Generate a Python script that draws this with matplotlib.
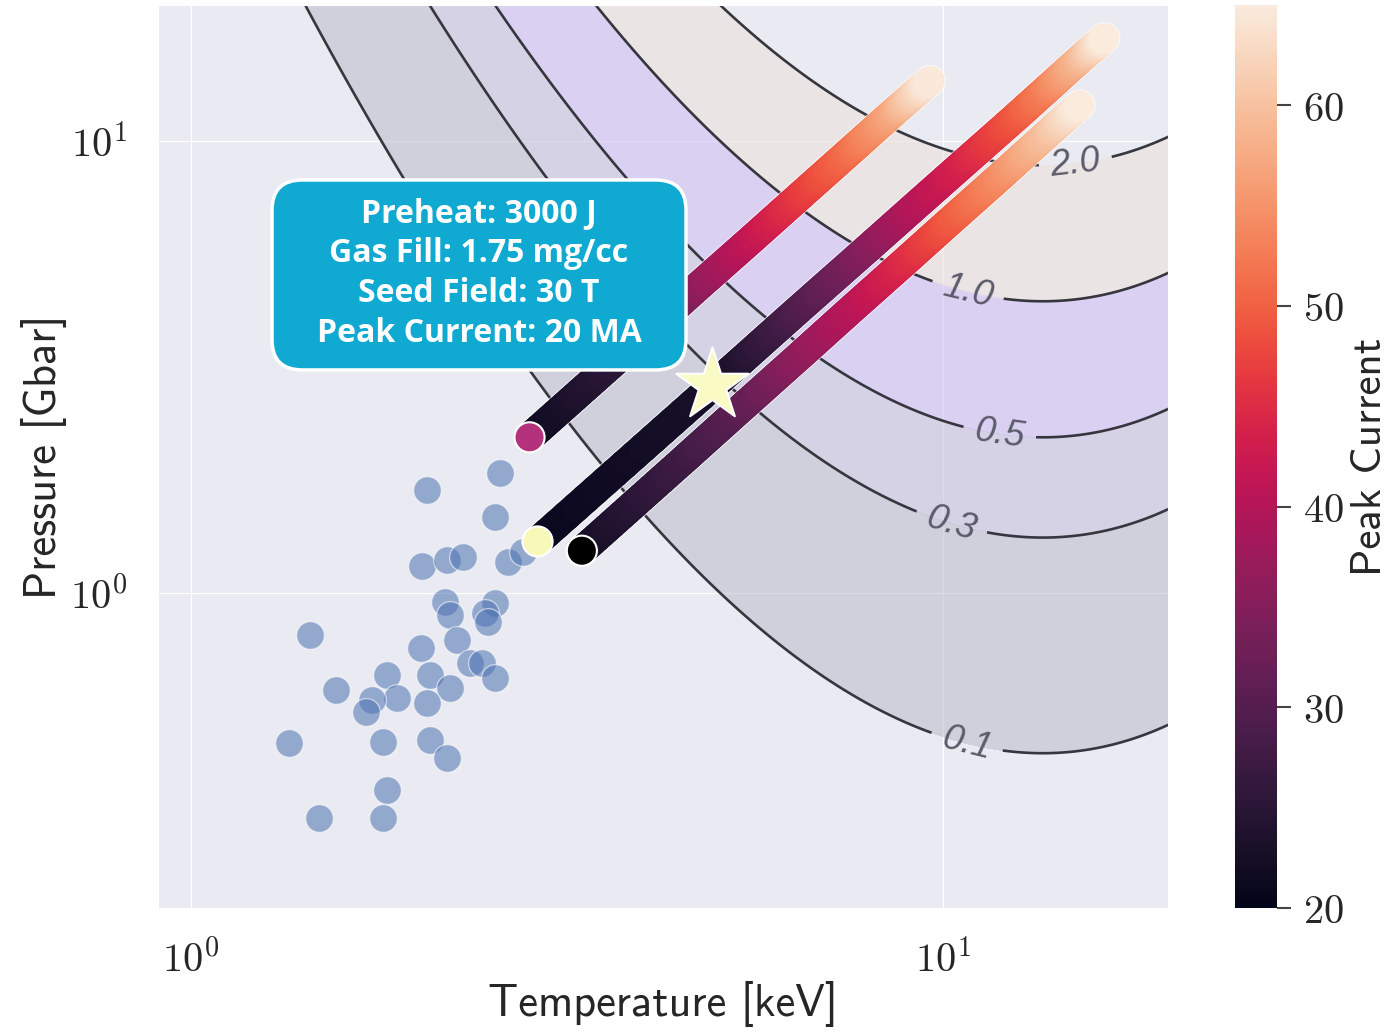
import numpy as np
import matplotlib
matplotlib.use('Agg')
import matplotlib.pyplot as plt
import seaborn as sns
from matplotlib.collections import LineCollection
from matplotlib.patches import FancyBboxPatch
from matplotlib.colors import Normalize
from matplotlib.cm import ScalarMappable
from matplotlib.ticker import NullLocator

sns.set_style('darkgrid')
plt.rcParams['font.family'] = ['DejaVu Sans']
plt.rcParams['mathtext.fontset'] = 'cm'

# contour of value 1.0 (keV, Gbar); the field scales as P
unity_T = [1.41, 2.0, 2.82, 3.98, 5.62, 7.94, 11.2, 15.8, 20.0]
unity_P = [204, 73.6, 31.1, 15.2, 8.51, 5.65, 4.62, 4.49, 5.13]
levels = [0.1, 0.3, 0.5, 1.0, 2.0]
band_colors = ['#c0c0cf', '#c6c3db', '#cfc0f2', '#ede0db']
label_pos = [(10.76, 0.466), (10.28, 1.44), (11.9, 2.27), (10.8, 4.68), (14.98, 9.17)]

# previous shots
shot_T = [2.06, 2.58, 2.54, 2.03, 2.19, 2.30, 2.64, 2.76, 2.18, 2.21, 2.54, 2.46,
          2.48, 1.44, 2.26, 2.02, 2.35, 2.44, 2.54, 2.08, 1.82, 1.56, 2.21, 1.88,
          1.74, 1.71, 2.06, 1.35, 1.80, 2.08, 2.19, 1.82, 1.48, 1.80]
shot_P = [1.69, 1.84, 1.47, 1.15, 1.18, 1.20, 1.17, 1.23, 0.955, 0.894, 0.950, 0.904,
          0.863, 0.807, 0.787, 0.756, 0.700, 0.700, 0.648, 0.659, 0.659, 0.610, 0.616, 0.586,
          0.580, 0.546, 0.571, 0.466, 0.468, 0.473, 0.432, 0.367, 0.318, 0.318]

# current scans (temperature, pressure, peak current)
scan1_T = [2.82, 3.84, 4.75, 5.54, 6.45, 7.52, 8.61, 9.61]
scan1_P = [2.21, 3.49, 4.80, 6.02, 7.55, 9.48, 11.6, 13.6]
scan1_I = [21, 26, 36, 41, 46, 51, 57, 65]
scan2_T = [2.89, 5.22, 6.43, 7.92, 9.26, 10.77, 12.55, 13.8, 15.3, 16.4]
scan2_P = [1.30, 3.11, 4.24, 5.76, 7.26, 9.07, 11.36, 13.1, 15.3, 16.9]
scan2_I = [21, 23, 29, 35, 40, 44, 49, 53, 59, 65]
scan3_T = [3.31, 4.49, 5.23, 6.48, 7.54, 8.78, 10.23, 11.92, 13.88, 15.2]
scan3_P = [1.24, 1.95, 2.45, 3.37, 4.23, 5.30, 6.66, 8.35, 10.5, 12.0]
scan3_I = [22, 27, 30, 36, 40, 44, 49, 54, 60, 65]
start_colors = ['#b3327b', '#f8f8b8', '#000000']

star_T = [4.93]
star_P = [2.88]

box_lines = ['Preheat: 3000 J', 'Gas Fill: 1.75 mg/cc', 'Seed Field: 30 T', 'Peak Current: 20 MA']

fig = plt.figure(figsize=(13.98, 10.34), dpi=100)
ax = fig.add_axes([0.1130, 0.1219, 0.7225, 0.8733])
cax = fig.add_axes([0.8834, 0.1219, 0.0300, 0.8733])
ax.set_xscale('log')
ax.set_yscale('log')
ax.set_xlim(0.904, 19.92)
ax.set_ylim(0.2009, 20.0)

rocket = sns.color_palette('rocket', as_cmap=True)
norm = Normalize(20, 65)

# contour bands
coef = np.polyfit(np.log10(unity_T), np.log10(unity_P), 4)
Tg = np.logspace(np.log10(0.85), np.log10(21), 400)
Pg = np.logspace(np.log10(0.19), np.log10(21), 400)
TT, PP = np.meshgrid(Tg, Pg)
ZZ = PP / 10**np.polyval(coef, np.log10(TT))
ax.contourf(TT, PP, ZZ, levels=levels, colors=band_colors, alpha=0.6, zorder=1)
cs = ax.contour(TT, PP, ZZ, levels=levels, colors='#36363e', linewidths=1.9, zorder=2)
lbls = ax.clabel(cs, fmt='%.1f', manual=label_pos, inline=True, fontsize=26, inline_spacing=8)
for t in lbls:
    t.set_fontfamily('Liberation Sans')
    t.set_fontstyle('italic')
    t.set_color('#5b5b6b')

ax.scatter(shot_T, shot_P, s=400, color='#4c72b0', alpha=0.55, edgecolors='white',
           linewidths=1, zorder=3)

scans = [(scan1_T, scan1_P, scan1_I), (scan2_T, scan2_P, scan2_I), (scan3_T, scan3_P, scan3_I)]
for i, (T, P, I) in enumerate(scans):
    lt, lp = np.log10(T), np.log10(P)
    segs, vals = [], []
    for k in range(len(T) - 1):
        f = np.linspace(0, 1, 21)
        x = 10**(lt[k] + f * (lt[k + 1] - lt[k]))
        y = 10**(lp[k] + f * (lp[k + 1] - lp[k]))
        c = I[k] + f * (I[k + 1] - I[k])
        for j in range(20):
            segs.append([(x[j], y[j]), (x[j + 1], y[j + 1])])
            vals.append(0.5 * (c[j] + c[j + 1]))
    ax.plot(T, P, color='white', lw=23, alpha=0.7, solid_capstyle='round', zorder=4 + i * 0.1)
    lc = LineCollection(segs, cmap=rocket, norm=norm, linewidths=21.5, capstyle='round',
                        zorder=4.05 + i * 0.1)
    lc.set_array(np.array(vals))
    ax.add_collection(lc)

ax.scatter([scan1_T[0], scan2_T[0], scan3_T[0]], [scan1_P[0], scan2_P[0], scan3_P[0]],
           s=470, c=start_colors, edgecolors='white', linewidths=1.5, zorder=6)
ax.scatter(star_T, star_P, marker='*', s=3000, c='#fafac4', edgecolors='white',
           linewidths=1.5, zorder=7)

box = FancyBboxPatch((0.1129, 0.5958), 0.4099, 0.2104, boxstyle='round,pad=0,rounding_size=0.03',
                     mutation_aspect=1010 / 903, transform=ax.transAxes, fc='#10a9d1',
                     ec='white', lw=2.5, zorder=8)
ax.add_patch(box)
ax.text(0.3178, 0.703, '\n'.join(box_lines), transform=ax.transAxes, ha='center', va='center',
        color='white', fontsize=23, fontweight='bold', family='Open Sans', linespacing=1.28,
        zorder=9)

ax.set_xticks([1, 10])
ax.set_xticklabels([r'$\mathrm{10}^{\mathrm{0}}$', r'$\mathrm{10}^{\mathrm{1}}$'])
ax.set_yticks([1, 10])
ax.set_yticklabels([r'$\mathrm{10}^{\mathrm{0}}$', r'$\mathrm{10}^{\mathrm{1}}$'])
ax.xaxis.set_minor_locator(NullLocator())
ax.yaxis.set_minor_locator(NullLocator())
ax.tick_params(axis='x', labelsize=29, pad=20, colors='#262626')
ax.tick_params(axis='y', labelsize=29, pad=19, colors='#262626')
ax.set_xlabel('Temperature [keV]', family='cmss10', fontsize=32, color='#262626', labelpad=0)
ax.set_ylabel('Pressure [Gbar]', family='cmss10', fontsize=32, color='#262626', labelpad=2)

cb = fig.colorbar(ScalarMappable(norm=norm, cmap=rocket), cax=cax)
cb.outline.set_visible(False)
cb.set_ticks([20, 30, 40, 50, 60])
cb.set_ticklabels([r'$\mathrm{%d}$' % v for v in [20, 30, 40, 50, 60]])
cax.tick_params(right=True, length=10, width=1.5, color='#444444', labelsize=29, pad=9,
                labelcolor='#262626')
cb.set_label('Peak Current', family='cmss10', fontsize=31, color='#262626', labelpad=5)

plt.savefig('out.png', dpi=100)
